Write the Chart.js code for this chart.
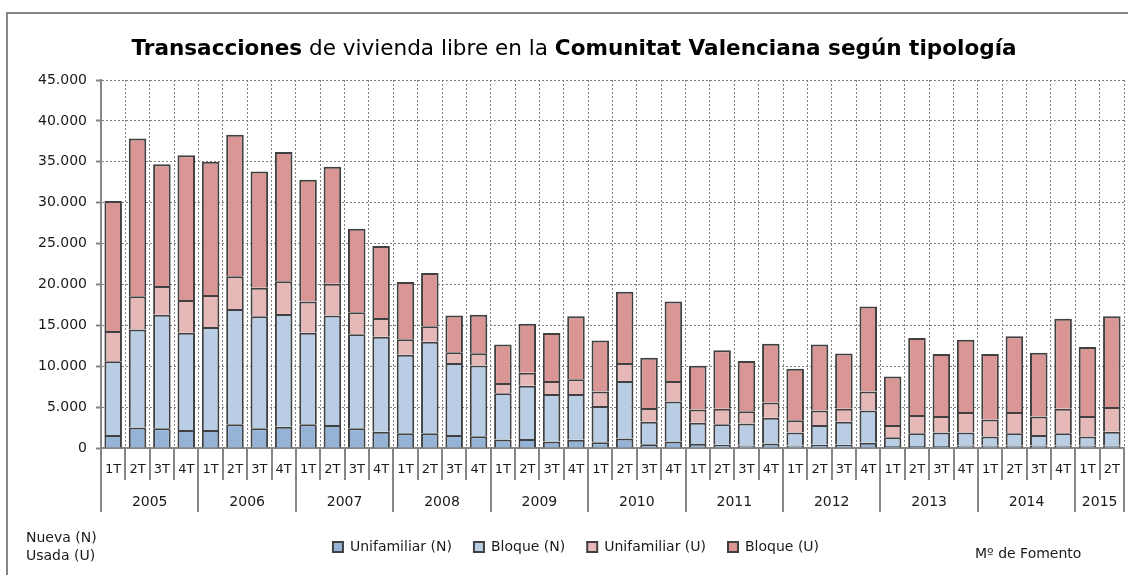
<!DOCTYPE html>
<html><head><meta charset="utf-8">
<script src="https://cdn.jsdelivr.net/npm/chart.js@4.4.1/dist/chart.umd.min.js"></script>
<style>html,body{margin:0;padding:0;background:#fff;overflow:hidden}</style>
</head><body>
<canvas id="c" width="1128" height="575"></canvas>
<script>
// ---- data ----
const quarters = ['1T','2T','3T','4T','1T','2T','3T','4T','1T','2T','3T','4T','1T','2T','3T','4T','1T','2T','3T','4T','1T','2T','3T','4T','1T','2T','3T','4T','1T','2T','3T','4T','1T','2T','3T','4T','1T','2T','3T','4T','1T','2T'];
const years = ['2005','2006','2007','2008','2009','2010','2011','2012','2013','2014','2015'];
const quartersPerYear = [4,4,4,4,4,4,4,4,4,4,2];
const seriesNames = ['Unifamiliar (N)','Bloque (N)','Unifamiliar (U)','Bloque (U)'];
const unifamiliarN = [1600,2500,2400,2200, 2200,2900,2400,2600, 2900,2800,2400,2000, 1800,1800,1600,1450, 1050,1100,800,1000, 700,1150,450,800, 500,400,300,550, 300,400,400,650, 250,250,250,300, 300,300,300,300, 300,300];
const bloqueN = [9000,12000,13900,11900, 12600,14100,13700,13800, 11200,13400,11500,11600, 9600,11200,8800,8650, 5650,6500,5800,5600, 4450,7050,2750,4900, 2600,2500,2700,3150, 1600,2400,2800,3950, 1050,1550,1650,1600, 1100,1500,1300,1500, 1100,1700];
const unifamiliarU = [3700,4050,3500,4000, 3900,4000,3500,4000, 3800,3900,2700,2300, 1900,1900,1300,1500, 1250,1600,1600,1800, 1750,2200,1700,2500, 1600,1900,1500,1850, 1500,1800,1600,2300, 1500,2250,2000,2500, 2100,2600,2250,3000, 2500,3000];
const bloqueU = [15900,19300,14900,17700, 16300,17300,14200,15800, 14900,14300,10200,8800, 7000,6500,4500,4700, 4700,6000,5850,7700, 6250,8700,6150,9700, 5350,7150,6150,7200, 6300,8050,6750,10400, 5950,9400,7600,8850, 8000,9250,7800,11000, 8450,11100];
const yMax = 45000, yStep = 5000;

// ---- style ----
const FONT = 'DejaVu Sans';
const TXT = '#1a1a1a';
const AXIS = '#868686';
const GRID = '#808080';
const colors = ['#95b3d7','#b9cde5','#e6b9b8','#d99694'];
const titleParts = [['Transacciones','bold'],[' de vivienda libre en la ','normal'],['Comunitat Valenciana según tipología','bold']];

function fmt(v){ return String(v).replace(/\B(?=(\d{3})+(?!\d))/g,'.'); }

const deco = {
  id:'deco',
  beforeDraw(chart){
    const ctx = chart.ctx;
    ctx.save();
    ctx.fillStyle = '#fff'; ctx.fillRect(0,0,chart.width,chart.height);
    ctx.strokeStyle = AXIS; ctx.lineWidth = 2;
    ctx.strokeRect(7,13,chart.width+30,chart.height+30);
    ctx.restore();
  },
  afterDraw(chart){
    const ctx = chart.ctx, xs = chart.scales.x, area = chart.chartArea;
    ctx.save();
    // title with mixed weights
    let size = 22;
    const widthAt = s => titleParts.reduce((w,p)=>{ctx.font = p[1]+' '+s+'px "'+FONT+'"'; return w+ctx.measureText(p[0]).width;},0);
    const target = 886;
    size = size * target / widthAt(size);
    if (size > 22) size = 22;
    const tw = widthAt(size);
    let tx = 574 - tw/2;
    ctx.fillStyle = '#000'; ctx.textBaseline = 'alphabetic'; ctx.textAlign = 'left';
    titleParts.forEach(p=>{ ctx.font = p[1]+' '+size+'px "'+FONT+'"'; ctx.fillText(p[0],tx,55); tx += ctx.measureText(p[0]).width; });

    // x axis separators and labels
    const step = xs.getPixelForValue(1) - xs.getPixelForValue(0);
    const yb = area.bottom;
    const yearBounds = new Set([0]);
    let acc = 0; quartersPerYear.forEach(n=>{acc+=n; yearBounds.add(acc);});
    ctx.strokeStyle = AXIS; ctx.lineWidth = 2;
    for (let i=0;i<=quarters.length;i++){
      const x = Math.round(xs.getPixelForValue(Math.min(i,quarters.length-1)) + (i<quarters.length ? -step/2 : step/2));
      ctx.beginPath(); ctx.moveTo(x, yb); ctx.lineTo(x, yearBounds.has(i) ? yb+64 : yb+32); ctx.stroke();
    }
    ctx.fillStyle = TXT; ctx.textAlign = 'center'; ctx.textBaseline = 'middle';
    ctx.font = '13px "'+FONT+'"';
    quarters.forEach((q,i)=>{ ctx.fillText(q, xs.getPixelForValue(i), yb+22); });
    ctx.font = '14px "'+FONT+'"';
    let start = 0;
    years.forEach((y,k)=>{
      const n = quartersPerYear[k];
      const cx = (xs.getPixelForValue(start) + xs.getPixelForValue(start+n-1))/2;
      ctx.fillText(y, cx, yb+54);
      start += n;
    });
    // side notes
    ctx.textAlign = 'left';
    ctx.font = '14px "'+FONT+'"';
    ctx.fillText('Nueva (N)', 26, 538);
    ctx.fillText('Usada (U)', 26, 556);
    ctx.fillText('Mº de Fomento', 975, 554);
    ctx.restore();
  }
};

const dataArrays = [unifamiliarN, bloqueN, unifamiliarU, bloqueU];
new Chart(document.getElementById('c'), {
  type:'bar',
  data:{
    labels: quarters.map((q,i)=>i),
    datasets: dataArrays.map((d,i)=>({
      label: seriesNames[i], data: d,
      backgroundColor: colors[i], borderColor:'#404040', borderWidth:2,
      categoryPercentage:1, barPercentage:0.72
    }))
  },
  options:{
    responsive:false, animation:false, devicePixelRatio:1,
    layout:{padding:{top:80,left:28,right:4,bottom:11}},
    plugins:{
      title:{display:false}, tooltip:{enabled:false},
      legend:{position:'bottom', labels:{boxWidth:10, boxHeight:10, padding:22, color:TXT, font:{family:FONT,size:14}}}
    },
    scales:{
      x:{stacked:true,
        grid:{offset:true, color:GRID, lineWidth:1, drawTicks:false},
        border:{display:true, color:AXIS, width:2, dash:[2,2]},
        ticks:{display:false},
        afterFit(s){ s.height = 70; }
      },
      y:{stacked:true, min:0, max:yMax,
        ticks:{stepSize:yStep, padding:9, color:TXT, font:{family:FONT,size:14}, callback:v=>fmt(v)},
        grid:{color:GRID, lineWidth:1, tickLength:5, tickBorderDash:[], tickColor:AXIS, tickWidth:2},
        border:{display:true, color:AXIS, width:2, dash:[2,2]},
        afterFit(s){ s.width = 73; }
      }
    }
  },
  plugins:[deco]
});
</script>
</body></html>
